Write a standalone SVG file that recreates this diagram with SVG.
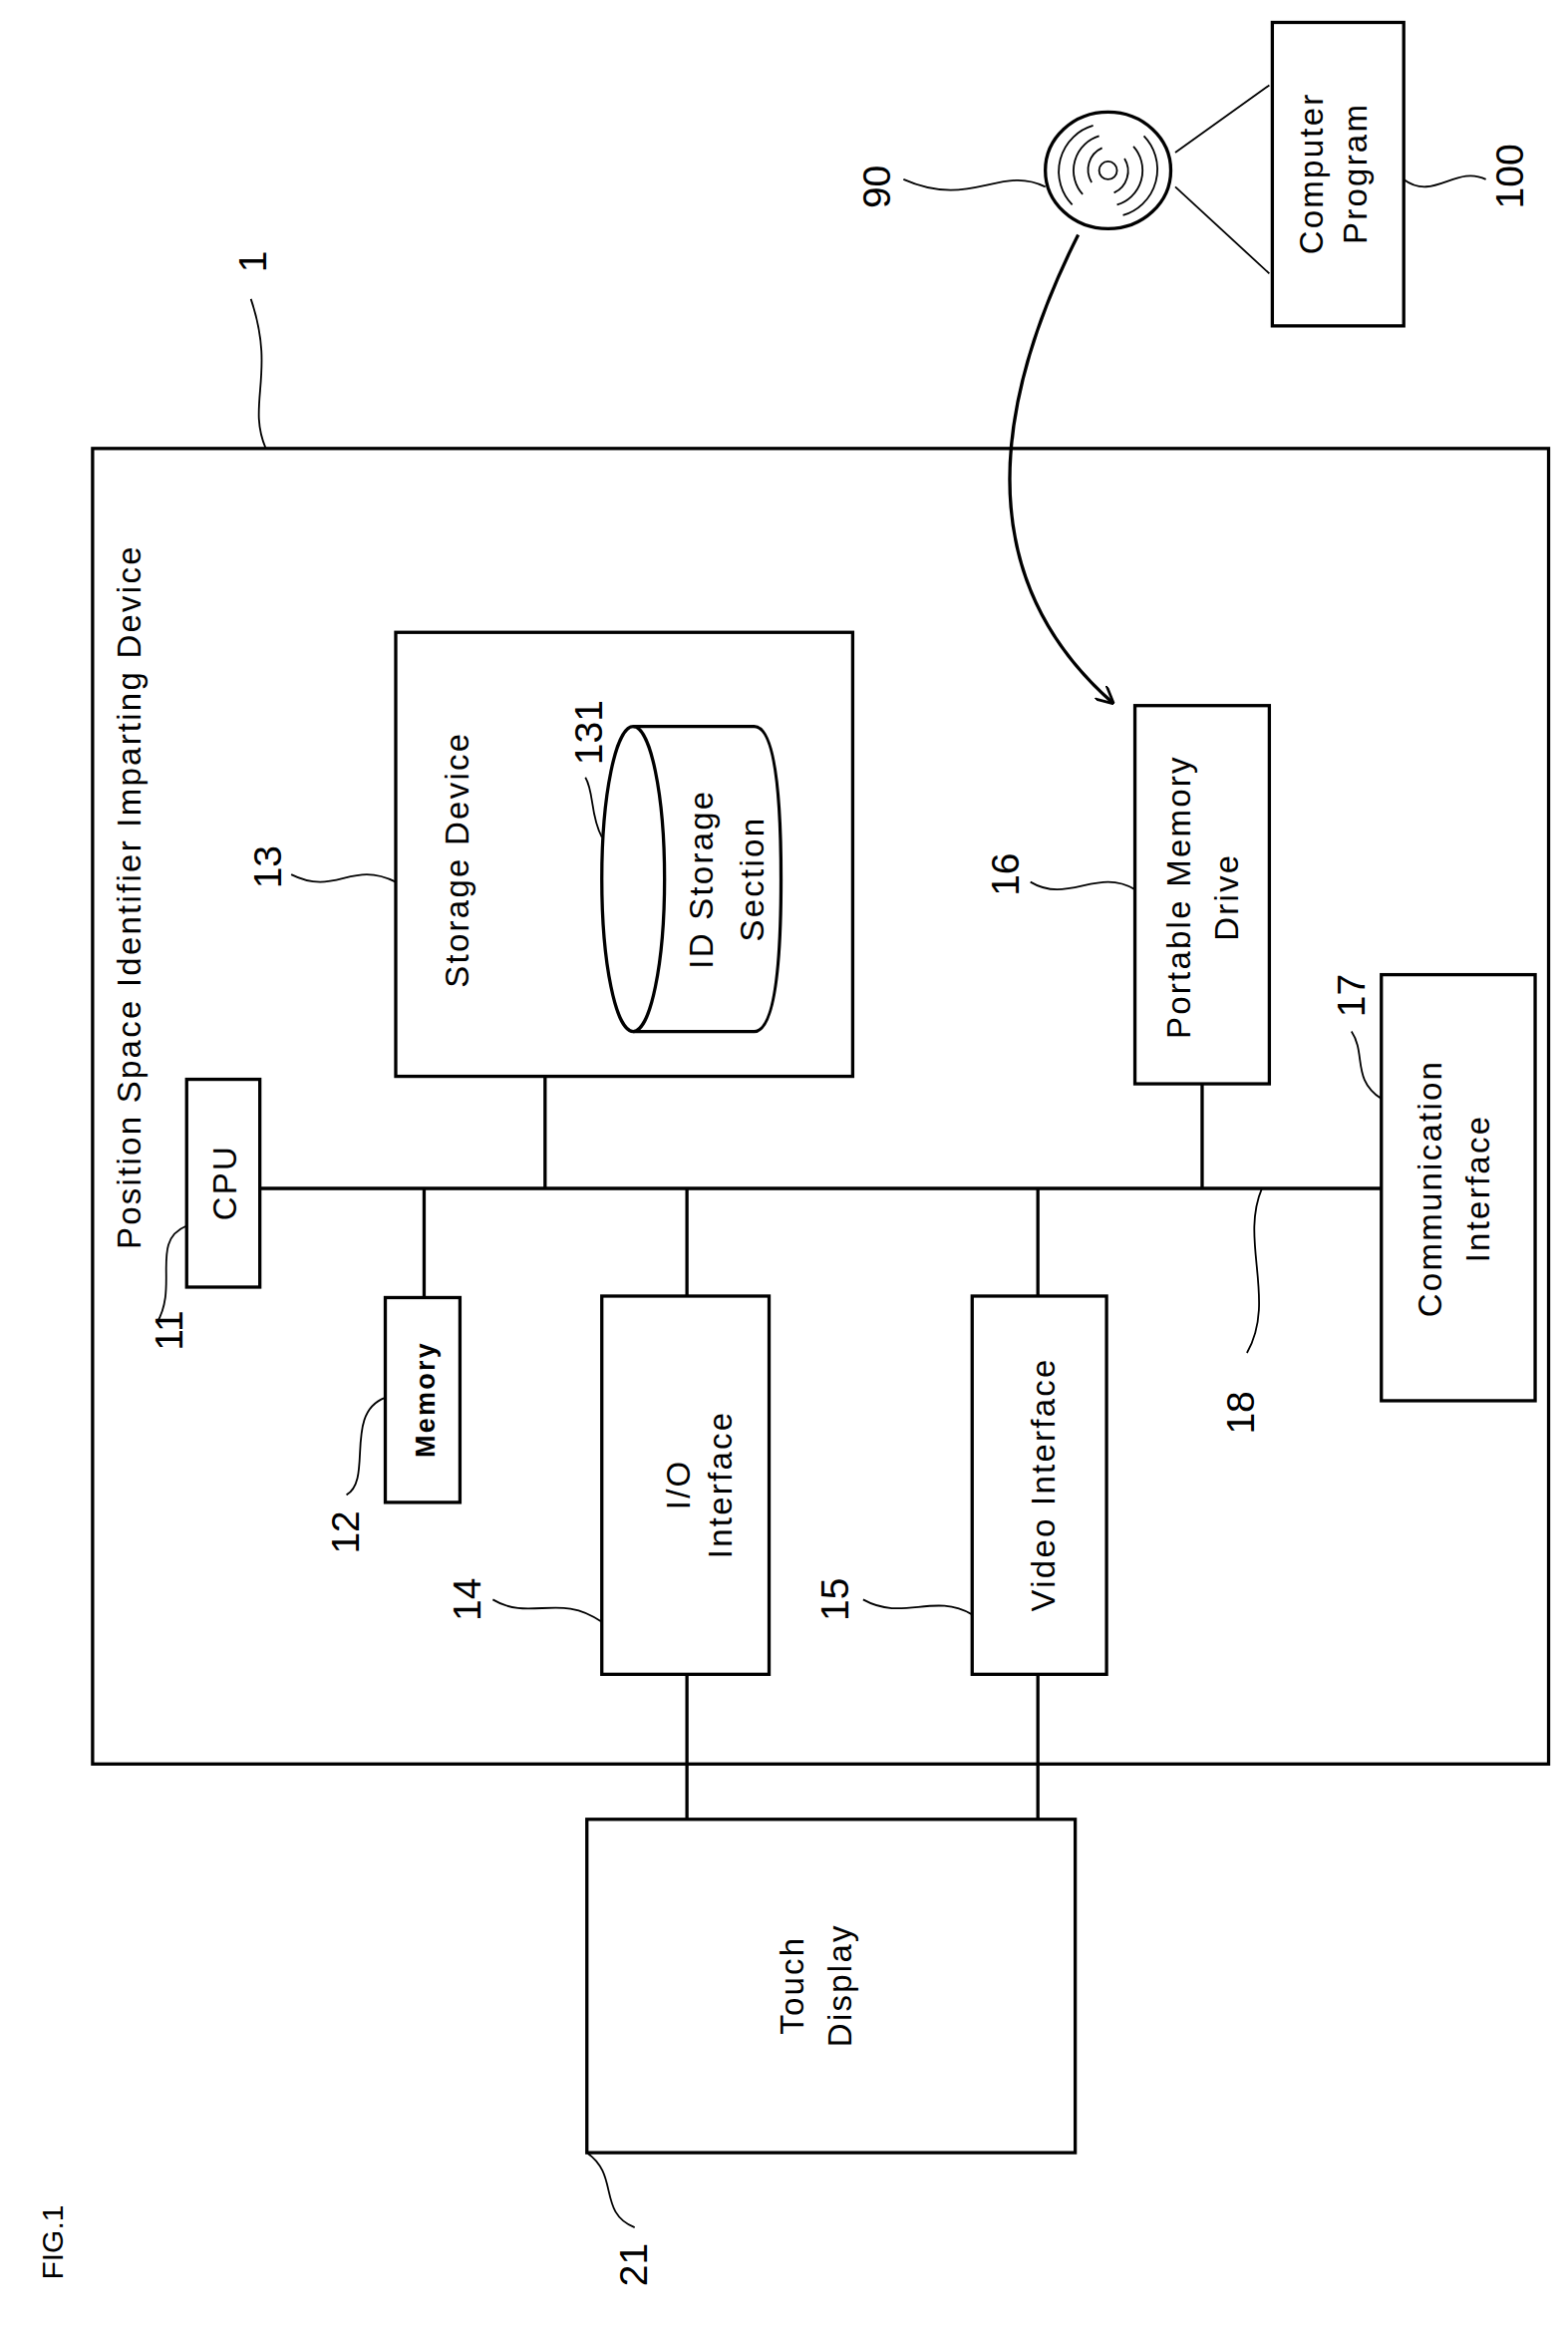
<svg xmlns="http://www.w3.org/2000/svg" width="1573" height="2339" viewBox="0 0 1573 2339">
<style>
.b{fill:none;stroke:#000;stroke-width:2.2}
.l{fill:none;stroke:#000;stroke-width:1.2}
.t{font-family:"Liberation Sans",Arial,sans-serif;font-size:22px;fill:#000;text-anchor:middle;letter-spacing:1.5px}
.n{font-family:"Liberation Sans",Arial,sans-serif;font-size:26px;fill:#000;text-anchor:middle}
</style>
<defs><marker id="ah" viewBox="0 0 10 10" refX="9" refY="5" markerWidth="12" markerHeight="12" orient="auto" markerUnits="userSpaceOnUse"><path d="M0,0 L10,5 L0,10" fill="none" stroke="#000" stroke-width="1.5"/></marker></defs>
<rect width="1573" height="2339" fill="#fff"/>
<g transform="scale(1.4981,1.4994)">
<g id="device"><rect class="b" x="62" y="300" width="975" height="880"/><text class="t" transform="translate(94,600) rotate(-90)">Position  Space  Identifier  Imparting  Device</text></g>
<g id="connectors">
<path class="b" d="M174,795 H925 M284,795 V868 M365,720 V795 M460,795 V867 M695,795 V867 M805,725 V795 M460,1120 V1217 M695,1120 V1217"/>
<path class="l" d="M787,102 L850,57 M787,125 L850,183"/>
<path class="b" d="M722,157 Q620,360 745,470" marker-end="url(#ah)"/>
</g>
<g id="cpu"><rect class="b" x="125" y="722" width="49" height="139"/><text class="t" transform="translate(158,791) rotate(-90)">CPU</text></g>
<g id="storage"><rect class="b" x="265" y="423" width="306" height="297"/><text class="t" transform="translate(314,575) rotate(-90)">Storage  Device</text></g>
<g id="idstore"><path class="b" d="M424,486 H505 Q523,486 523,588 Q523,690 505,690 H424"/><ellipse class="b" cx="424" cy="588" rx="21" ry="102"/><text class="t" transform="translate(477,588) rotate(-90)">ID  Storage</text><text class="t" transform="translate(511,588) rotate(-90)">Section</text></g>
<g id="memory"><rect class="b" x="258" y="868" width="50" height="137"/><text class="t" style="font-weight:bold;font-size:18px" transform="translate(291,936) rotate(-90)">Memory</text></g>
<g id="io"><rect class="b" x="403" y="867" width="112" height="253"/><text class="t" transform="translate(462,993) rotate(-90)">I/O</text><text class="t" transform="translate(490,993) rotate(-90)">Interface</text></g>
<g id="video"><rect class="b" x="651" y="867" width="90" height="253"/><text class="t" transform="translate(706,993) rotate(-90)">Video    Interface</text></g>
<g id="pmd"><rect class="b" x="760" y="472" width="90" height="253"/><text class="t" transform="translate(797,600) rotate(-90)">Portable Memory</text><text class="t" transform="translate(829,600) rotate(-90)">Drive</text></g>
<g id="comm"><rect class="b" x="925" y="652" width="103" height="285"/><text class="t" transform="translate(965,795) rotate(-90)">Communication</text><text class="t" transform="translate(997,795) rotate(-90)">Interface</text></g>
<g id="touch"><rect class="b" x="393" y="1217" width="327" height="223"/><text class="t" transform="translate(538,1328) rotate(-90)">Touch</text><text class="t" transform="translate(570,1328) rotate(-90)">Display</text></g>
<g id="program"><rect class="b" x="852" y="15" width="88" height="203"/><text class="t" transform="translate(886,116) rotate(-90)">Computer</text><text class="t" transform="translate(915,116) rotate(-90)">Program</text></g>
<g id="disc"><ellipse class="b" cx="742" cy="114" rx="42" ry="39"/><circle class="l" cx="742" cy="114" r="6"/><path class="l" d="M718,137 A32,32 0 0 1 732,84 M725,130 A24,24 0 0 1 736,91 M731,122 A16,16 0 0 1 738,99 M766,91 A32,32 0 0 1 752,144 M759,98 A24,24 0 0 1 748,137 M753,106 A16,16 0 0 1 746,129"/></g>
<g id="labels">
<text class="n" transform="translate(178,175) rotate(-90)">1</text><path class="l" d="M178,300 C165,270 185,250 168,200"/>
<text class="n" transform="translate(122,890) rotate(-90)">11</text><path class="l" d="M125,820 C100,830 120,860 105,885"/>
<text class="n" transform="translate(240,1025) rotate(-90)">12</text><path class="l" d="M258,935 C230,945 250,990 232,1000"/>
<text class="n" transform="translate(188,580) rotate(-90)">13</text><path class="l" d="M265,590 C235,575 225,600 195,585"/>
<text class="n" transform="translate(403,490) rotate(-90)">131</text><path class="l" d="M403,560 C395,545 398,530 392,520"/>
<text class="n" transform="translate(322,1070) rotate(-90)">14</text><path class="l" d="M403,1085 C375,1065 355,1085 330,1070"/>
<text class="n" transform="translate(568,1070) rotate(-90)">15</text><path class="l" d="M651,1080 C625,1065 605,1085 578,1070"/>
<text class="n" transform="translate(682,585) rotate(-90)">16</text><path class="l" d="M760,595 C735,580 715,605 690,590"/>
<text class="n" transform="translate(914,666) rotate(-90)">17</text><path class="l" d="M925,735 C905,722 915,705 905,690"/>
<text class="n" transform="translate(840,945) rotate(-90)">18</text><path class="l" d="M845,795 C830,830 855,870 835,905"/>
<text class="n" transform="translate(596,125) rotate(-90)">90</text><path class="l" d="M700,125 C670,110 650,140 605,120"/>
<text class="n" transform="translate(1020,118) rotate(-90)">100</text><path class="l" d="M940,120 C960,135 975,110 995,120"/>
<text class="n" transform="translate(433,1515) rotate(-90)">21</text><path class="l" d="M393,1440 C415,1455 400,1480 425,1490"/>
<text class="n" style="font-size:20px" transform="translate(42,1500) rotate(-90)">FIG.1</text>
</g>
</g>
</svg>
